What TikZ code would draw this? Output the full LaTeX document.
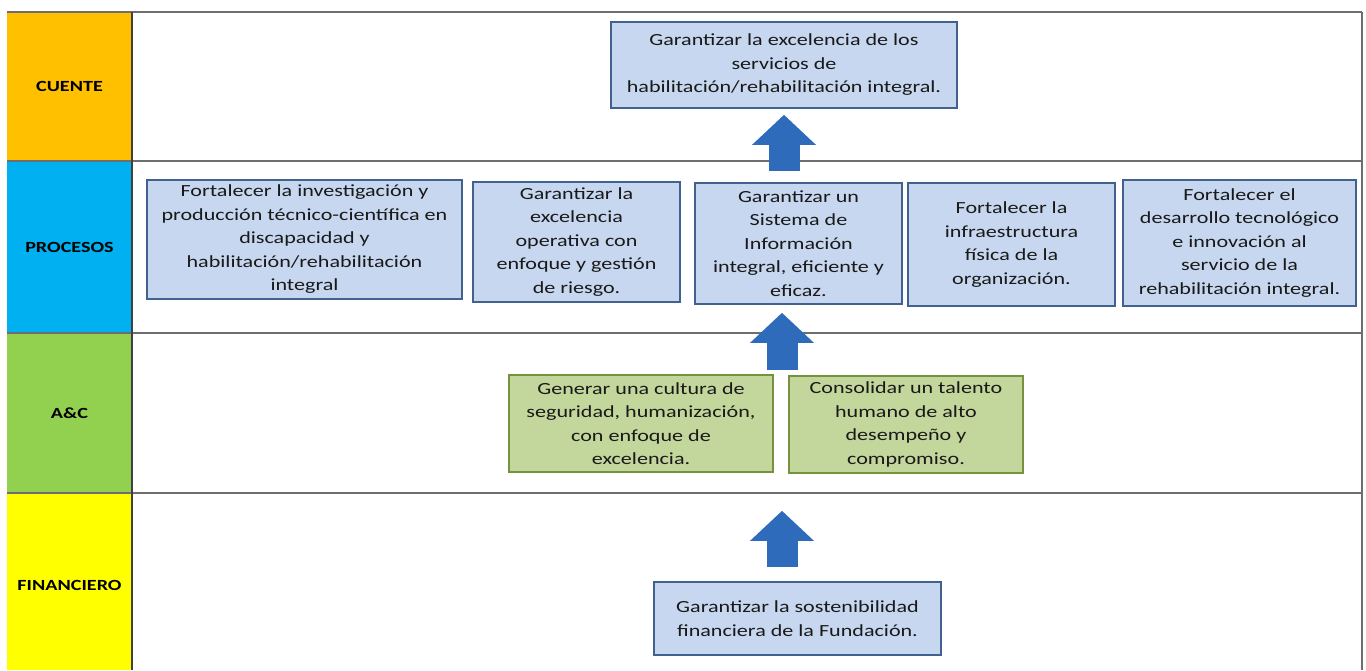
\documentclass[tikz,border=0pt]{standalone}
\usepackage{fontspec}
\setmainfont{Carlito}[FakeStretch=1.3]
\usetikzlibrary{arrows.meta}
\definecolor{cliente}{HTML}{FFC000}
\definecolor{procesos}{HTML}{00B0F0}
\definecolor{ayc}{HTML}{92D050}
\definecolor{financiero}{HTML}{FFFF00}
\definecolor{azulfondo}{HTML}{C6D7EF}
\definecolor{azulborde}{HTML}{41628F}
\definecolor{verdefondo}{HTML}{C3D69B}
\definecolor{verdeborde}{HTML}{76923C}
\definecolor{flecha}{HTML}{2E6BBA}
\definecolor{marco}{HTML}{6E6E6E}
\tikzset{
  objetivo/.style={draw=azulborde, fill=azulfondo, line width=1.6pt, align=center,
    inner sep=0pt, text=black!90, font=\fontsize{17}{23.5}\selectfont},
  objverde/.style={objetivo, draw=verdeborde, fill=verdefondo},
  etiqueta/.style={font=\fontsize{15.5}{18}\selectfont\bfseries, text=black},
  linea/.style={draw=marco, line width=1.8pt},
  flechaazul/.style={draw=flecha, line width=31pt, -{Triangle[width=62pt,length=30pt]}}
}
\begin{document}
\begin{tikzpicture}[x=1pt,y=-1pt]
  \useasboundingbox (0,0) rectangle (1366,670);
  \fill[white] (0,0) rectangle (1366,670);
  \fill[cliente] (7,12) rectangle (132,161);
  \fill[procesos] (7,161) rectangle (132,333);
  \fill[ayc] (7,333) rectangle (132,493);
  \fill[financiero] (7,493) rectangle (132,670);
  \draw[linea] (7,12) -- (1362,12);
  \draw[linea] (7,161) -- (1362,161);
  \draw[linea] (7,333) -- (1362,333);
  \draw[linea] (7,493) -- (1362,493);
  \draw[linea] (1362,12) -- (1362,670);
  \draw[line width=1.6pt, black!75] (132,12) -- (132,670);
  \node[etiqueta] (lcl) at (69.5,86.5) {CUENTE};
  \node[etiqueta] (lpr) at (69.5,247) {PROCESOS};
  \node[etiqueta] (lac) at (69.5,413) {A\&C};
  \node[etiqueta] (lfi) at (69.5,585) {FINANCIERO};
  \node[objetivo, minimum width=346pt, minimum height=86pt] (cl) at (784,65)
    {Garantizar la excelencia de los\\servicios de\\habilitación/rehabilitación integral.};
  \node[objetivo, minimum width=315pt, minimum height=119pt] (p1) at (304.5,239.5)
    {Fortalecer la investigación y\\producción técnico-científica en\\discapacidad y\\habilitación/rehabilitación\\integral};
  \node[objetivo, minimum width=207pt, minimum height=120pt] (p2) at (576.5,242)
    {Garantizar la\\excelencia\\operativa con\\enfoque y gestión\\de riesgo.};
  \node[objetivo, minimum width=207pt, minimum height=121pt] (p3) at (798.5,243.5)
    {Garantizar un\\Sistema de\\Información\\integral, eficiente y\\eficaz.};
  \node[objetivo, minimum width=207pt, minimum height=123pt] (p4) at (1011.5,244.5)
    {Fortalecer la\\infraestructura\\física de la\\organización.};
  \node[objetivo, minimum width=233pt, minimum height=126pt] (p5) at (1239.5,243)
    {Fortalecer el\\desarrollo tecnológico\\e innovación al\\servicio de la\\rehabilitación integral.};
  \node[objverde, minimum width=264pt, minimum height=97pt] (a1) at (641,423.5)
    {Generar una cultura de\\seguridad, humanización,\\con enfoque de\\excelencia.};
  \node[objverde, minimum width=234pt, minimum height=97pt] (a2) at (906,424.5)
    {Consolidar un talento\\humano de alto\\desempeño y\\compromiso.};
  \node[objetivo, minimum width=287pt, minimum height=73pt] (fi) at (797.5,618.5)
    {Garantizar la sostenibilidad\\financiera de la Fundación.};
  \coordinate (hueco) at (782,375);
  \draw[flechaazul, shorten <=11pt, shorten >=6pt] (p3.north -| cl.south) -- (cl.south);
  \draw[flechaazul, shorten <=5pt, shorten >=8pt] (hueco) -- (hueco |- p3.south);
  \draw[flechaazul, shorten <=14pt, shorten >=38pt] (fi.north -| hueco) -- (hueco |- a1.south);
\end{tikzpicture}
\end{document}
